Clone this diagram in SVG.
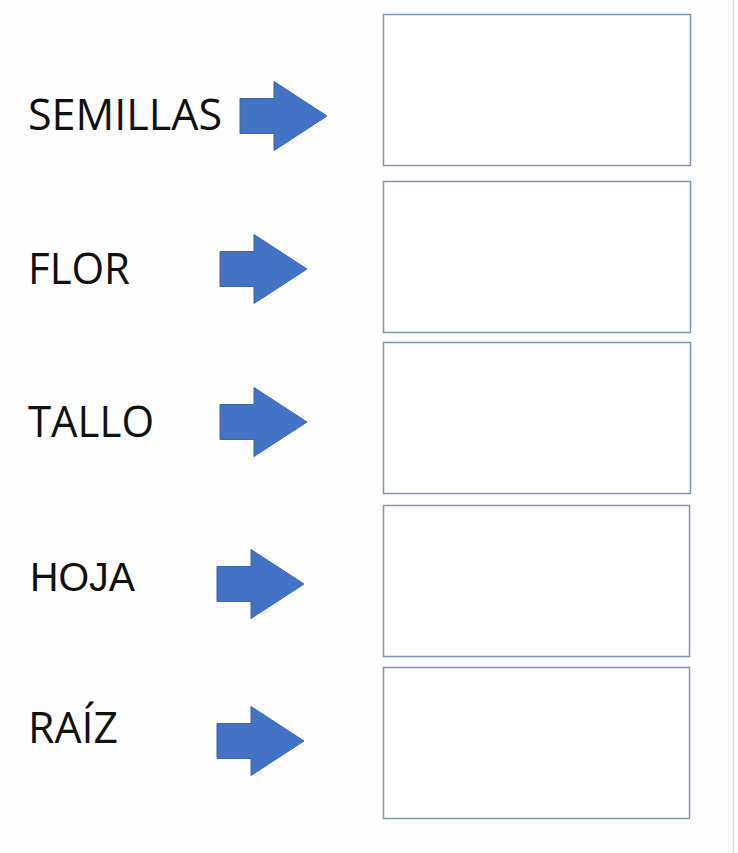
<svg xmlns="http://www.w3.org/2000/svg" width="738" height="853" viewBox="0 0 738 853">
<style>
.lbl{font-family:"Open Sans","Liberation Sans",sans-serif;font-size:44px;fill:#111}
.lbl2{font-family:"Liberation Sans",Arial,sans-serif;font-size:41px;fill:#111}
.box{fill:#fff;stroke:#8497b0;stroke-width:1.5}
.arr{fill:#4472c4;stroke:#3c66b0;stroke-width:1}
</style>
<defs>
<path id="arrow" d="M0,-17.5 H34 V-34.5 L87,0 L34,34.5 V17.5 H0 Z"/>
</defs>
<rect x="0" y="0" width="738" height="853" fill="#fdfdfd"/>
<line x1="733.5" y1="0" x2="733.5" y2="853" stroke="#dcdcdc" stroke-width="1.5"/>
<g id="semillas">
<text class="lbl" x="28" y="130" textLength="194" lengthAdjust="spacingAndGlyphs">SEMILLAS</text>
<rect class="box" x="383.5" y="14.5" width="307" height="151"/>
</g>
<g id="flor">
<text class="lbl" x="28" y="284" textLength="102" lengthAdjust="spacingAndGlyphs">FLOR</text>
<rect class="box" x="383.5" y="181.5" width="307" height="151"/>
</g>
<g id="tallo">
<text class="lbl" x="28" y="437" textLength="126" lengthAdjust="spacingAndGlyphs">TALLO</text>
<rect class="box" x="383.5" y="342.5" width="307" height="151"/>
</g>
<g id="hoja">
<text class="lbl2" x="30" y="591" textLength="105" lengthAdjust="spacingAndGlyphs">HOJA</text>
<rect class="box" x="383.5" y="505.5" width="306" height="151"/>
</g>
<g id="raiz">
<text class="lbl" x="28" y="743" textLength="90" lengthAdjust="spacingAndGlyphs">RAÍZ</text>
<rect class="box" x="383.5" y="667.5" width="306" height="151"/>
</g>
<g id="connectors">
<use href="#arrow" class="arr" x="240" y="116"/>
<use href="#arrow" class="arr" x="220" y="269"/>
<use href="#arrow" class="arr" x="220" y="422"/>
<use href="#arrow" class="arr" x="217" y="584"/>
<use href="#arrow" class="arr" x="217" y="741"/>
</g>
</svg>
